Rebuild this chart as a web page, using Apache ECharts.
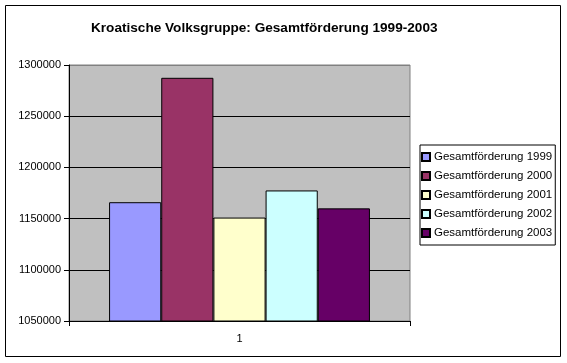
<!DOCTYPE html>
<html>
<head>
<meta charset="utf-8">
<script src="https://cdn.jsdelivr.net/npm/echarts@6/dist/echarts.min.js"></script>
<style>html,body{margin:0;padding:0;background:#fff}#c{width:567px;height:363px}</style>
</head>
<body>
<div id="c"></div>
<script>
var categories = ['1'];
var seriesNames = ['Gesamtförderung 1999','Gesamtförderung 2000','Gesamtförderung 2001','Gesamtförderung 2002','Gesamtförderung 2003'];
var seriesValues = [1166000, 1287500, 1151000, 1177500, 1160000];
var seriesColors = ['#9999FF','#993366','#FFFFCC','#CCFFFF','#660066'];
var yTicks = [1050000, 1100000, 1150000, 1200000, 1250000, 1300000];

var chart = echarts.init(document.getElementById('c'));
var font = '"Liberation Sans", Arial, sans-serif';
var series = seriesNames.map(function(n, i){
  return {
    name: n, type: 'bar', data: [seriesValues[i]],
    barGap: '0%', barCategoryGap: '23.5%',
    itemStyle: {color: seriesColors[i], borderColor: '#000', borderWidth: 1},
    emphasis: {disabled: true}, animation: false
  };
});
chart.setOption({
  animation: false,
  textStyle: {fontFamily: font},
  title: {
    text: 'Kroatische Volksgruppe: Gesamtförderung 1999-2003',
    left: 86, top: 16,
    textStyle: {fontSize: 13.6, fontWeight: 'bold', color: '#000', fontFamily: font}
  },
  grid: {left: 69, right: 157, top: 65, bottom: 42, show: true, backgroundColor: '#C0C0C0', borderColor: '#808080', borderWidth: 1},
  legend: {
    orient: 'vertical', left: 420, top: 145,
    itemWidth: 8, itemHeight: 8, itemGap: 5,
    padding: [5, 3, 5, 1],
    borderColor: '#000', borderWidth: 1,
    icon: 'rect',
    textStyle: {fontSize: 11.5, color: '#000', fontFamily: font, lineHeight: 14, padding: [0,0,0,-1]},
    data: seriesNames
  },
  xAxis: {
    type: 'category', data: categories,
    axisLine: {lineStyle: {color: '#000'}},
    axisTick: {show: true, length: 5, lineStyle: {color: '#000'}},
    axisLabel: {fontSize: 11, color: '#000', margin: 12, fontFamily: font}
  },
  yAxis: {
    type: 'value', min: yTicks[0], max: yTicks[yTicks.length-1], interval: 50000,
    axisLine: {show: true, lineStyle: {color: '#000'}},
    axisTick: {show: true, length: 5, lineStyle: {color: '#000'}},
    axisLabel: {fontSize: 11, color: '#000', margin: 8, fontFamily: font, formatter: function(v){ return String(v); }},
    splitLine: {show: true, lineStyle: {color: ['#000','#000','#000','#000','#000','#808080'], width: 1}}
  },
  graphic: [{type: 'rect', shape: {x: 5.5, y: 5.5, width: 555, height: 351}, style: {fill: 'none', stroke: '#000', lineWidth: 1}, silent: true}],
  series: series
});
</script>
</body>
</html>
